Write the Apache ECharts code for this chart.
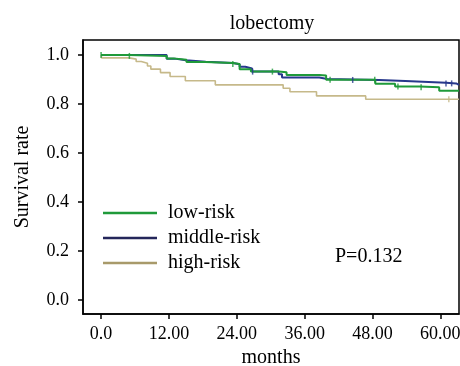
<!DOCTYPE html>
<html><head><meta charset="utf-8">
<script src="https://cdn.jsdelivr.net/npm/echarts@6/dist/echarts.min.js"></script>
<style>html,body{margin:0;padding:0;background:#fff}#c{width:460px;height:366px}</style>
</head><body><div id="c"></div>
<script>
const title = 'lobectomy';
const xTicks = [0, 12, 24, 36, 48, 60];
const xTickLabels = ['0.0', '12.00', '24.00', '36.00', '48.00', '60.00'];
const yTicks = [0, 0.2, 0.4, 0.6, 0.8, 1.0];
const yTickLabels = ['0.0', '0.2', '0.4', '0.6', '0.8', '1.0'];
const seriesNames = ['low-risk', 'middle-risk', 'high-risk'];
const lowRisk = [[0,1.0],[5,0.996],[11.6,0.986],[12.8,0.98],[15.1,0.971],[18.4,0.967],[23.3,0.963],[24.5,0.942],[26.5,0.932],[31.4,0.929],[32.8,0.918],[38.6,0.916],[39.8,0.899],[48.5,0.882],[52,0.871],[56.3,0.868],[59.8,0.854],[63.3,0.854]];
const middleRisk = [[0,1.0],[11.6,0.985],[13,0.978],[15,0.972],[18.5,0.967],[23.3,0.962],[24.5,0.952],[25.5,0.945],[26.7,0.932],[31.4,0.921],[32,0.908],[38.6,0.902],[40,0.898],[49.2,0.894],[53.8,0.887],[61,0.884],[62.8,0.878],[63.3,0.878]];
const highRisk = [[0,1.0],[0.1,0.988],[5,0.983],[6.2,0.973],[7.1,0.966],[8.2,0.955],[8.8,0.942],[10.5,0.928],[12.2,0.912],[14.9,0.895],[20.2,0.878],[32.2,0.864],[33.4,0.850],[38.1,0.833],[46.8,0.819],[63.3,0.819]];
const lowCensor = [[0,1.0],[5,0.996],[23.3,0.963],[30.3,0.932],[40.5,0.899],[48.4,0.899],[52.5,0.871],[56.6,0.868]];
const middleCensor = [[26.8,0.932],[44.5,0.898],[61,0.884],[62,0.884]];
const highCensor = [[61.5,0.819]];
const pText = 'P=0.132';

const colors = ['#1f9a3a', '#27388c', '#c6b98a'];
const legendColors = ['#1f9a3a', '#24265a', '#a89a6a'];
const font = 'Liberation Serif, Times New Roman, serif';
const chart = echarts.init(document.getElementById('c'), null, {renderer: 'canvas'});
const lines = [lowRisk, middleRisk, highRisk].map((d, i) => ({
  name: seriesNames[i], type: 'line', step: 'end', data: d, showSymbol: false, symbol: 'none',
  lineStyle: {color: colors[i], width: i === 2 ? 1.6 : 2}, itemStyle: {color: legendColors[i]},
  z: 3 - i, animation: false, silent: true
}));
const cens = [lowCensor, middleCensor, highCensor].map((d, i) => ({
  type: 'scatter', data: d, symbol: 'rect', symbolSize: [1.5, 6],
  itemStyle: {color: colors[i]}, z: 4, animation: false, silent: true
}));
chart.setOption({
  animation: false,
  title: {text: title, left: 267, textAlign: 'center', top: 9, textStyle: {fontFamily: font, fontSize: 20, fontWeight: 'normal', color: '#000'}},
  grid: {left: 83, top: 40, right: 1, bottom: 52, outerBoundsMode: 'none', containLabel: false, show: true, borderColor: '#000', borderWidth: 1.5, backgroundColor: 'transparent'},
  legend: {
    data: seriesNames.map((n, i) => ({name: n, icon: 'rect', itemStyle: {color: legendColors[i]}})),
    orient: 'vertical', left: 98, top: 198, itemWidth: 54, itemHeight: 2.5, itemGap: 5,
    textStyle: {fontFamily: font, fontSize: 20, color: '#000', padding: [0, 0, 0, 6]}, selectedMode: false
  },
  xAxis: {
    type: 'value', min: -3.2, max: 63.3,
    name: 'months', nameLocation: 'middle', nameGap: 31,
    nameTextStyle: {fontFamily: font, fontSize: 20, color: '#000'},
    axisLine: {show: true, onZero: false, lineStyle: {color: '#000', width: 1.5}},
    axisTick: {show: true, customValues: xTicks, length: 5, lineStyle: {color: '#000', width: 1.5}},
    axisLabel: {customValues: xTicks, formatter: v => xTickLabels[xTicks.indexOf(v)], fontFamily: font, fontSize: 18, color: '#000', margin: 11},
    splitLine: {show: false}
  },
  yAxis: {
    type: 'value', min: -0.057, max: 1.061,
    name: 'Survival rate', nameLocation: 'middle', nameGap: 50,
    nameTextStyle: {fontFamily: font, fontSize: 20, color: '#000'},
    axisLine: {show: true, onZero: false, lineStyle: {color: '#000', width: 1.5}},
    axisTick: {show: true, customValues: yTicks, length: 5, lineStyle: {color: '#000', width: 1.5}},
    axisLabel: {customValues: yTicks, formatter: v => yTickLabels[yTicks.findIndex(t => Math.abs(t - v) < 1e-6)], fontFamily: font, fontSize: 18, color: '#000', margin: 14},
    splitLine: {show: false}
  },
  graphic: [{type: 'text', left: 335, top: 247, style: {text: pText, font: '20px ' + font, fill: '#000'}}],
  series: lines.concat(cens)
});
</script></body></html>
